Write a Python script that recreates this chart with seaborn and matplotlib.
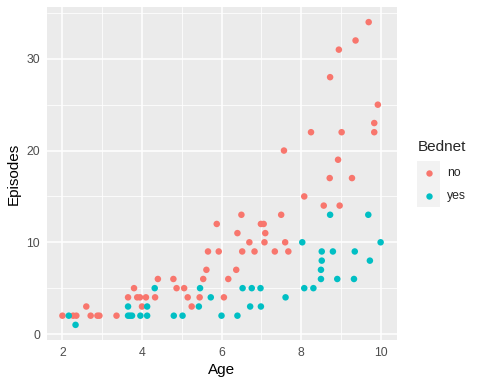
import matplotlib
matplotlib.use("Agg")
import matplotlib.pyplot as plt
from matplotlib.patches import Rectangle
from matplotlib.ticker import MultipleLocator
import seaborn as sns
import pandas as pd

# ages / episodes, split by bednet use
age_no = [2.0, 2.27, 2.35, 2.6, 2.71, 2.88, 2.93, 3.36, 3.65, 3.8, 3.88, 3.95,
          4.1, 4.0, 4.33, 4.4, 4.79, 4.87, 5.06, 5.15, 5.25, 5.45, 5.54, 5.62,
          5.66, 5.88, 5.93, 6.06, 6.17, 6.37, 6.4, 6.5, 6.52, 6.7, 6.83, 6.99,
          7.06, 7.08, 7.1, 7.34, 7.5, 7.57, 7.6, 7.68, 8.08, 8.25, 8.57, 8.72,
          8.73, 8.93, 8.95, 8.97, 9.02, 9.28, 9.37, 9.7, 9.84, 9.84, 9.93]
episodes_no = [2, 2, 2, 3, 2, 2, 2, 2, 4, 5, 4, 4,
               4, 3, 4, 6, 6, 5, 5, 4, 3, 4, 6, 7,
               9, 12, 9, 4, 6, 7, 11, 13, 9, 10, 9, 12,
               12, 10, 11, 9, 13, 20, 10, 9, 15, 22, 14, 17,
               28, 19, 31, 14, 22, 17, 32, 34, 23, 22, 25]

age_yes = [2.16, 2.33, 3.65, 3.7, 3.75, 3.65, 3.96, 4.13, 4.13, 4.32, 4.8, 5.02,
           5.43, 5.46, 5.73, 6.0, 6.4, 6.53, 6.72, 6.76, 6.98, 6.99, 7.61, 8.03,
           8.08, 8.31, 8.5, 8.5, 8.52, 8.52, 8.73, 8.8, 8.91, 9.33, 9.35, 9.69,
           9.73, 10.0]
episodes_yes = [2, 1, 2, 2, 2, 3, 2, 3, 2, 5, 2, 2,
                3, 5, 4, 2, 2, 5, 3, 5, 5, 3, 4, 10,
                5, 5, 6, 7, 8, 9, 13, 9, 6, 6, 9, 13,
                8, 10]

df = pd.DataFrame({
    "Age": age_no + age_yes,
    "Episodes": episodes_no + episodes_yes,
    "Bednet": ["no"] * len(age_no) + ["yes"] * len(age_yes),
})

sns.set_theme(style="darkgrid")
plt.rcParams["font.family"] = ["Liberation Sans", "DejaVu Sans"]

fig = plt.figure(figsize=(4.8, 3.84), dpi=100)
ax = fig.add_axes([0.0969, 0.1146, 0.8261 - 0.0969, 0.9818 - 0.1146])
ax.set_facecolor("#EBEBEB")

sns.scatterplot(data=df, x="Age", y="Episodes", hue="Bednet",
                hue_order=["no", "yes"], palette=["#F8766D", "#00BFC4"],
                s=22, linewidth=0, ax=ax, legend=False, zorder=3)

ax.set_xlim(1.6, 10.4)
ax.set_ylim(-0.65, 35.65)
ax.xaxis.set_major_locator(MultipleLocator(2))
ax.xaxis.set_minor_locator(MultipleLocator(1))
ax.yaxis.set_major_locator(MultipleLocator(10))
ax.yaxis.set_minor_locator(MultipleLocator(5))
ax.grid(which="major", color="white", linewidth=1.1)
ax.grid(which="minor", color="white", linewidth=0.55)
ax.set_axisbelow(True)
for sp in ax.spines.values():
    sp.set_visible(False)
ax.tick_params(which="major", length=2.75, width=0.8, color="#333333",
               labelcolor="#4D4D4D", labelsize=8.8, pad=2)
ax.tick_params(which="minor", length=0)
ax.set_xlabel("Age", fontsize=11, color="black", labelpad=3)
ax.set_ylabel("Episodes", fontsize=11, color="black", labelpad=4)

# legend, drawn ggplot-style with grey key boxes
fig.text(418 / 480, 1 - 147 / 384, "Bednet", fontsize=11, va="center", ha="left")
for i, (lab, col) in enumerate([("no", "#F8766D"), ("yes", "#00BFC4")]):
    yc = 1 - (172.5 + 23 * i) / 384
    fig.patches.append(Rectangle((417 / 480, yc - 11.5 / 384), 23 / 480, 23 / 384,
                                 transform=fig.transFigure, facecolor="#F2F2F2",
                                 edgecolor="none"))
    fig.lines.append(plt.Line2D([428.5 / 480], [yc], marker="o", markersize=4.6,
                                color=col, markeredgewidth=0,
                                transform=fig.transFigure))
    fig.text(447 / 480, yc, lab, fontsize=8.8, va="center", ha="left")

fig.savefig("out.png", dpi=100)
